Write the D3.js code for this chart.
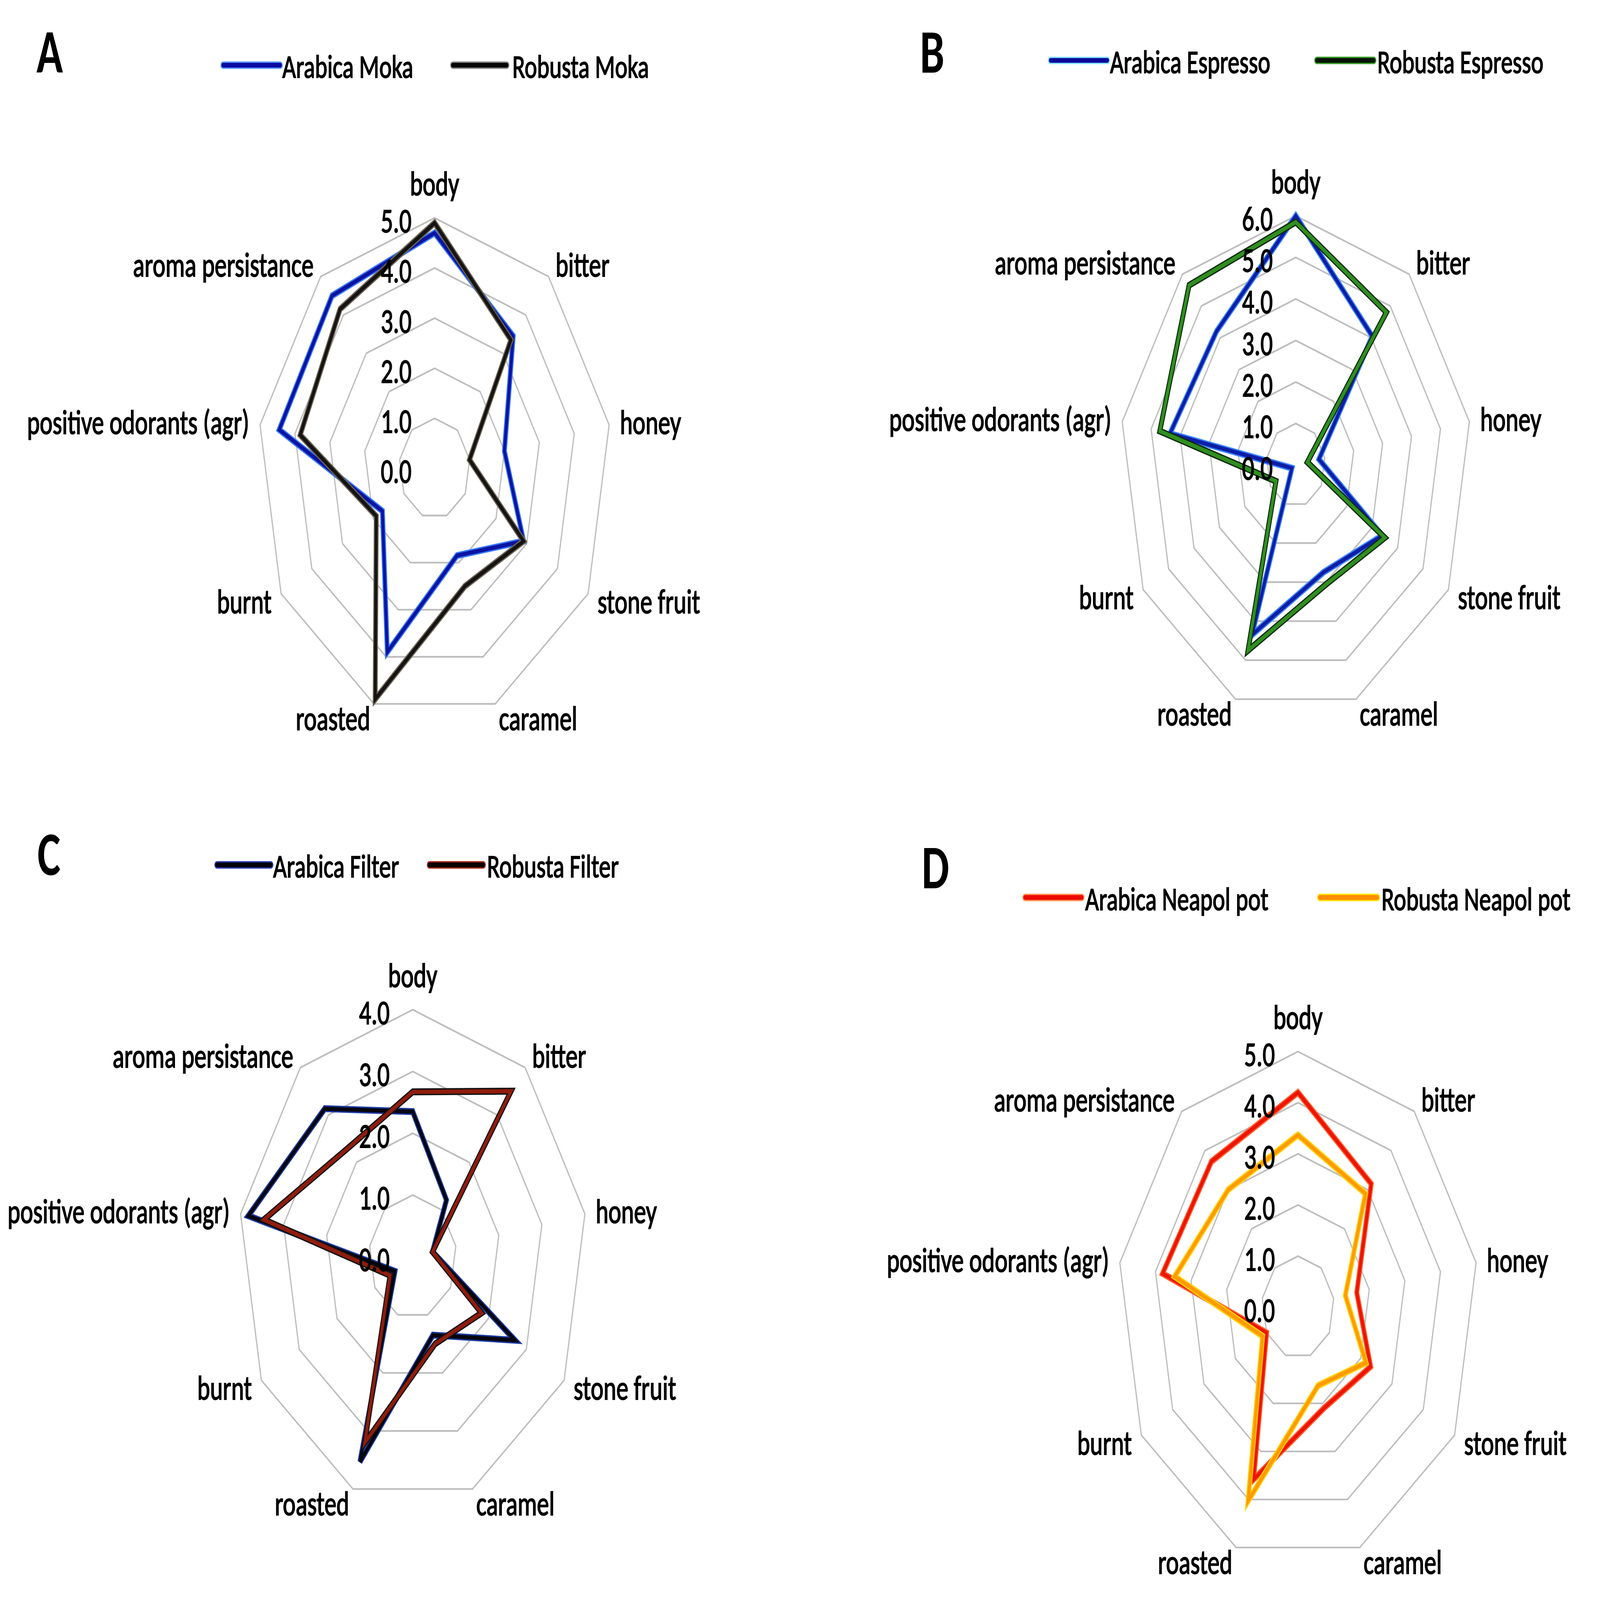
<!DOCTYPE html>
<html>
<head>
<meta charset="utf-8">
<script src="https://cdn.jsdelivr.net/npm/d3@7/dist/d3.min.js"></script>
<style>
  html, body { margin: 0; padding: 0; background: #ffffff; width: 100%; height: 100%; overflow: hidden; }
  svg { display: block; width: 100vw; height: 100vh; }
</style>
</head>
<body>
<svg id="chart" viewBox="0 0 6590 4662" preserveAspectRatio="none"></svg>
<script>
// ---------------- data ----------------
const axes = ["body", "bitter", "honey", "stone fruit", "caramel", "roasted", "burnt", "positive odorants (agr)", "aroma persistance"];

const arabicaMoka     = [4.70, 3.45, 2.00, 2.90, 1.85, 3.90, 1.70, 4.45, 4.50];
const robustaMoka     = [4.90, 3.35, 1.00, 2.90, 2.50, 4.90, 1.90, 3.85, 4.15];

const arabicaEspresso = [6.00, 4.05, 0.80, 3.40, 2.75, 4.35, 0.15, 4.35, 4.20];
const robustaEspresso = [5.85, 4.80, 0.40, 3.50, 3.05, 4.75, 0.78, 4.70, 5.65];

const arabicaFilter   = [2.35, 1.20, 0.46, 2.70, 1.35, 3.53, 0.47, 3.82, 3.13];
const robustaFilter   = [2.67, 3.50, 0.46, 1.82, 1.50, 3.20, 0.60, 3.46, 2.30];

const arabicaNeapol   = [4.20, 3.15, 1.65, 2.32, 2.10, 3.58, 1.00, 3.80, 3.72];
const robustaNeapol   = [3.37, 2.90, 1.33, 2.17, 1.63, 4.03, 1.13, 3.46, 3.00];

const ticksA = [0, 1, 2, 3, 4, 5];
const ticksB = [0, 1, 2, 3, 4, 5, 6];
const ticksC = [0, 1, 2, 3, 4];
const ticksD = [0, 1, 2, 3, 4, 5];

const panelLetters = ["A", "B", "C", "D"];
const seriesNames = [
  ["Arabica Moka", "Robusta Moka"],
  ["Arabica Espresso", "Robusta Espresso"],
  ["Arabica Filter", "Robusta Filter"],
  ["Arabica Neapol pot", "Robusta Neapol pot"]
];
const seriesValues = [
  [arabicaMoka, robustaMoka],
  [arabicaEspresso, robustaEspresso],
  [arabicaFilter, robustaFilter],
  [arabicaNeapol, robustaNeapol]
];
const panelTicks = [ticksA, ticksB, ticksC, ticksD];

// ---------------- layout & style ----------------
const layout = [
  { cx: 1790, cy: 1365, R: 730, letter: [150, 212], legY: 190, leg: [[919, 1154, 1163], [1865, 2087, 2110]] },
  { cx: 5337, cy: 1355, R: 726, letter: [3789, 212], legY: 176, leg: [[4327, 4561, 4572], [5424, 5658, 5673]] },
  { cx: 1700, cy: 3662, R: 720, letter: [154, 2550], legY: 2520, leg: [[894, 1115, 1125], [1769, 1990, 2006]] },
  { cx: 5346, cy: 3809, R: 745, letter: [3796, 2588], legY: 2615, leg: [[4222, 4456, 4470], [5436, 5673, 5690]] }
];
// plot line: outer (edge) + inner (core); legend line may differ
const seriesStyle = [
  [{ outer: "#3a78ff", inner: "#0a14a0", lOuter: "#5a9cff", lInner: "#0a0aa0" },
   { outer: "#6f6552", inner: "#141414", lOuter: "#8a8a8a", lInner: "#050505" }],
  [{ outer: "#3a84ff", inner: "#0d1ea6", lOuter: "#8ce8ff", lInner: "#0a0a9a" },
   { outer: "#0f2a0f", inner: "#2f8f1f", lOuter: "#3aa02a", lInner: "#061206" }],
  [{ outer: "#1d3aa0", inner: "#05050f", lOuter: "#2a3ab0", lInner: "#020208" },
   { outer: "#111111", inner: "#8f1c0c", lOuter: "#a02a10", lInner: "#080202" }],
  [{ outer: "#ff6030", inner: "#ee1400", lOuter: "#ff9a60", lInner: "#ee0a00" },
   { outer: "#ffd200", inner: "#ff9a00", lOuter: "#ffe400", lInner: "#ff8c00" }]
];

const FONT = "Carlito, Calibri, Lato, 'Open Sans', sans-serif";
const TEXT_STROKE = 2.5;
const svg = d3.select("#chart");
svg.append("rect").attr("width", 6590).attr("height", 4662).attr("fill", "#ffffff");

const n = axes.length;
const angle = d3.scaleLinear().domain([0, n]).range([0, 2 * Math.PI]);
const fmt = d3.format(".1f");

function styleText(sel, size) {
  return sel.attr("font-family", FONT)
    .attr("font-size", size)
    .attr("fill", "#000")
    .attr("stroke", "#000")
    .attr("stroke-width", TEXT_STROKE)
    .attr("paint-order", "stroke");
}

layout.forEach((L, p) => {
  const ticks = panelTicks[p];
  const maxV = d3.max(ticks);
  const r = d3.scaleLinear().domain([0, maxV]).range([0, L.R]);
  const g = svg.append("g").attr("transform", `translate(${L.cx},${L.cy})`);

  // rings
  const ringLine = d3.lineRadial()
    .angle((d, i) => angle(i))
    .radius(d => r(d))
    .curve(d3.curveLinearClosed);
  g.selectAll("path.ring")
    .data(ticks.filter(t => t > 0))
    .join("path")
    .attr("class", "ring")
    .attr("d", t => ringLine(axes.map(() => t)))
    .attr("fill", "none")
    .attr("stroke", "#bdbdbd")
    .attr("stroke-width", 5);

  // series
  const line = d3.lineRadial()
    .angle((d, i) => angle(i))
    .radius(d => r(d))
    .curve(d3.curveLinearClosed);
  seriesValues[p].forEach((vals, s) => {
    const st = seriesStyle[p][s];
    g.append("path").attr("d", line(vals)).attr("fill", "none")
      .attr("stroke", st.outer).attr("stroke-width", 20).attr("stroke-linejoin", "miter");
    g.append("path").attr("d", line(vals)).attr("fill", "none")
      .attr("stroke", st.inner).attr("stroke-width", 12).attr("stroke-linejoin", "miter");
  });

  // tick labels
  styleText(g.selectAll("text.tick")
    .data(ticks)
    .join("text")
    .attr("class", "tick")
    .attr("x", -95)
    .attr("y", t => -r(t) + 8)
    .attr("text-anchor", "end")
    .attr("dominant-baseline", "central"), 100)
    .text(t => fmt(t));

  // axis labels
  axes.forEach((a, i) => {
    const ang = angle(i);
    const sn = Math.sin(ang), cs = Math.cos(ang);
    const t = styleText(g.append("text"), 100).text(a);
    if (Math.abs(sn) < 1e-6) {
      t.attr("x", 0).attr("y", -(L.R + 100)).attr("text-anchor", "middle").attr("dominant-baseline", "central");
    } else {
      const d = L.R + 45;
      t.attr("x", d * sn).attr("y", -d * cs)
        .attr("text-anchor", sn > 0 ? "start" : "end")
        .attr("dominant-baseline", "central");
    }
  });

  // panel letter
  svg.append("text")
    .attr("x", L.letter[0]).attr("y", L.letter[1])
    .attr("font-family", FONT)
    .attr("font-weight", "bold")
    .attr("font-size", 180)
    .attr("fill", "#000")
    .text(panelLetters[p]);

  // legend
  seriesNames[p].forEach((name, s) => {
    const lg = L.leg[s];
    const st = seriesStyle[p][s];
    svg.append("line").attr("x1", lg[0]).attr("x2", lg[1]).attr("y1", L.legY).attr("y2", L.legY)
      .attr("stroke", st.lOuter).attr("stroke-width", 22).attr("stroke-linecap", "round");
    svg.append("line").attr("x1", lg[0]).attr("x2", lg[1]).attr("y1", L.legY).attr("y2", L.legY)
      .attr("stroke", st.lInner).attr("stroke-width", 14).attr("stroke-linecap", "round");
    styleText(svg.append("text").attr("x", lg[2]).attr("y", L.legY + 4)
      .attr("dominant-baseline", "central"), 97)
      .text(name);
  });
});
</script>
</body>
</html>
